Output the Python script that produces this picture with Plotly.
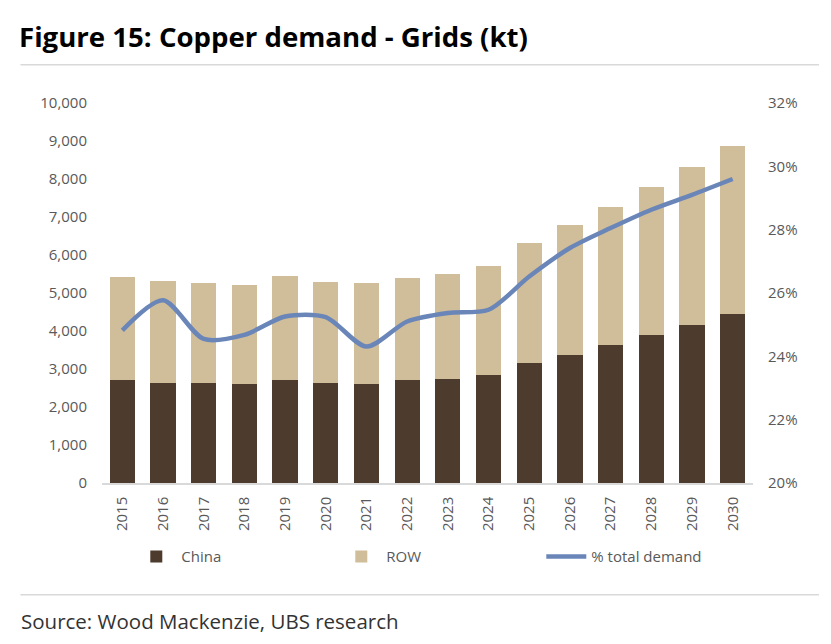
import plotly.graph_objects as go

# Copper demand - Grids (kt)
years = [str(y) for y in range(2015, 2031)]
china_kt = [2700, 2640, 2630, 2605, 2700, 2630, 2615, 2700, 2745, 2840, 3150, 3380, 3630, 3885, 4160, 4450]
row_kt = [2720, 2675, 2640, 2615, 2735, 2660, 2640, 2705, 2765, 2860, 3165, 3400, 3640, 3905, 4165, 4425]
pct_total = [0.2482, 0.2577, 0.2455, 0.2468, 0.2526, 0.2524, 0.2431, 0.2510, 0.2537, 0.2547,
             0.2652, 0.2742, 0.2805, 0.2863, 0.2910, 0.2960]

left_ticks = list(range(0, 10001, 1000))
right_ticks = [0.20, 0.22, 0.24, 0.26, 0.28, 0.30, 0.32]

FONT = "Open Sans"
GREY = "#595959"
CHINA_COL = "#4D3B2D"
ROW_COL = "#D0BD9A"
LINE_COL = "#6A86B8"

fig = go.Figure()

fig.add_trace(go.Bar(x=years, y=china_kt, name="China", marker=dict(color=CHINA_COL, line_width=0)))
fig.add_trace(go.Bar(x=years, y=row_kt, name="ROW", marker=dict(color=ROW_COL, line_width=0)))
fig.add_trace(go.Scatter(
    x=years, y=pct_total, name="% total demand", yaxis="y2",
    mode="lines", line=dict(color=LINE_COL, width=4.5, shape="spline", smoothing=0.8),
))

# plot area: x 101.6 -> 753, y 103.3 -> 483.3 (px)
fig.update_layout(
    width=831, height=644,
    margin=dict(l=102, r=78, t=103, b=161),
    paper_bgcolor="white", plot_bgcolor="white",
    barmode="stack", bargap=0.38,
    font=dict(family=FONT, color=GREY, size=15),
    xaxis=dict(
        type="category", tickangle=-90, showline=True, linecolor="#D9D9D9", linewidth=1.5,
        ticks="", showgrid=False, ticklabelstandoff=6, tickfont=dict(size=15, color=GREY),
    ),
    yaxis=dict(
        range=[0, 10000], tickvals=left_ticks, tickformat=",", showgrid=False, zeroline=False,
        showline=False, ticks="", ticklabelstandoff=14, tickfont=dict(size=15, color=GREY),
    ),
    yaxis2=dict(
        overlaying="y", side="right", range=[0.20, 0.32], tickvals=right_ticks, tickformat=".0%",
        showgrid=False, zeroline=False, showline=False, ticks="", ticklabelstandoff=14,
        tickfont=dict(size=15, color=GREY),
    ),
    legend=dict(
        orientation="h", x=0.045, xanchor="left", y=-0.194, yanchor="middle",
        entrywidth=150, entrywidthmode="pixels", itemwidth=40,
        font=dict(size=15, color=GREY), traceorder="normal", bgcolor="rgba(0,0,0,0)",
    ),
    showlegend=True,
    title=dict(
        text="<b>Figure 15: Copper demand - Grids (kt)</b>",
        x=19 / 831, xanchor="left", xref="container",
        y=1 - 37 / 644, yanchor="middle", yref="container",
        font=dict(family=FONT, size=27.6, color="#000000"),
    ),
)

# thin grey rules under the title and above the source
px0, px1 = 101.6, 753.0
py0, py1 = 483.3, 103.3
def to_px(x):
    return (x - px0) / (px1 - px0)
def to_py(y):
    return (py0 - y) / (py0 - py1)

for ry in (65, 595):
    fig.add_shape(type="line", xref="paper", yref="paper",
                  x0=to_px(20), x1=to_px(819), y0=to_py(ry), y1=to_py(ry),
                  line=dict(color="#D9D9D9", width=1.5))

fig.add_annotation(
    text="Source: Wood Mackenzie, UBS research",
    xref="paper", yref="paper", x=to_px(19), y=to_py(621),
    xanchor="left", yanchor="middle", showarrow=False,
    font=dict(family=FONT, size=20.5, color="#333333"),
)

# the browser's default 8px body margin would shift the whole figure
fig.write_html("out.html", config={"displayModeBar": False},
               post_script="document.body.style.margin='0px';")
